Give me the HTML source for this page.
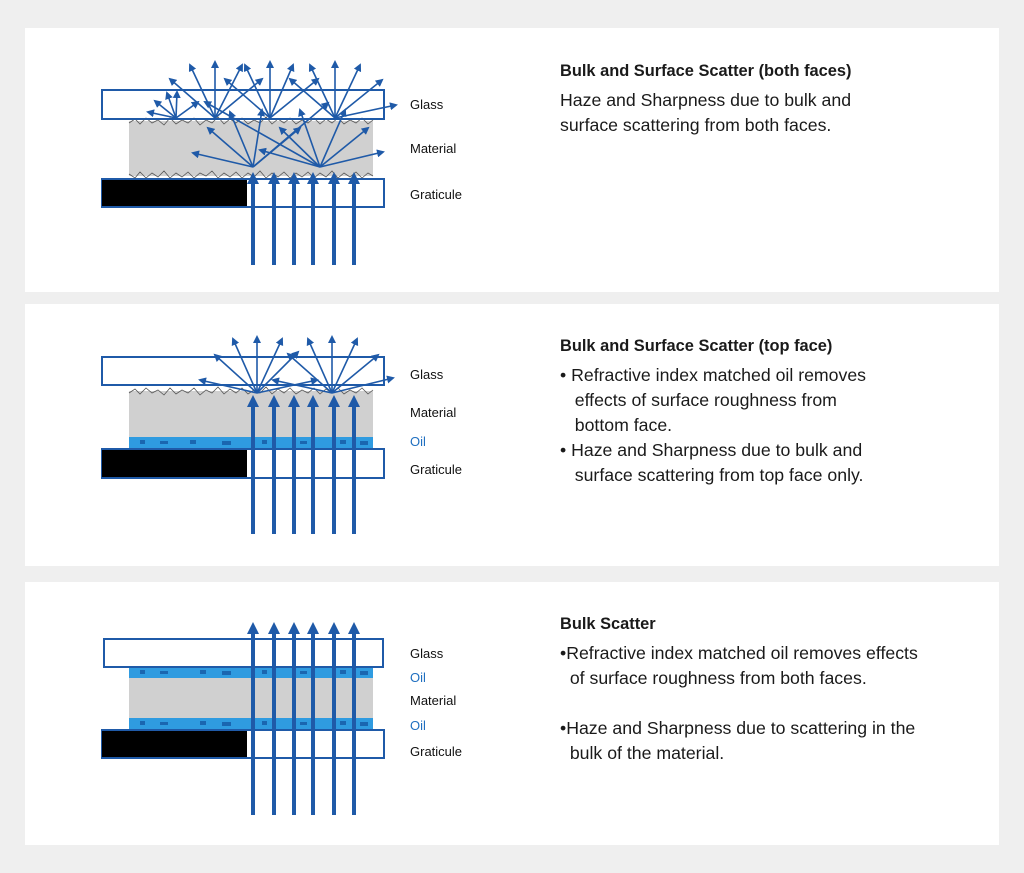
<!DOCTYPE html>
<html><head><meta charset="utf-8"><style>
body{margin:0;background:#efefef;width:1024px;height:873px;overflow:hidden;font-family:"Liberation Sans",sans-serif;}
.card{position:absolute;left:25px;width:974px;background:#fff;}
.t{position:absolute;left:560px;color:#1a1a1a;font-size:17.7px;line-height:25px;white-space:nowrap;}
.t b{display:block;font-size:16.4px;margin-bottom:4px;}
svg{position:absolute;left:0;top:0}
</style></head><body>
<div class="card" style="top:28px;height:264px"></div>
<div class="card" style="top:304px;height:262px"></div>
<div class="card" style="top:582px;height:263px"></div>

<div class="t" style="top:59px"><b>Bulk and Surface Scatter (both faces)</b>Haze and Sharpness due to bulk and<br>surface scattering from both faces.</div>
<div class="t" style="top:334px"><b>Bulk and Surface Scatter (top face)</b>• Refractive index matched oil removes<br>&nbsp;&nbsp;&nbsp;effects of surface roughness from<br>&nbsp;&nbsp;&nbsp;bottom face.<br>• Haze and Sharpness due to bulk and<br>&nbsp;&nbsp;&nbsp;surface scattering from top face only.</div>
<div class="t" style="top:612px"><b>Bulk Scatter</b>•Refractive index matched oil removes effects<br>&nbsp;&nbsp;of surface roughness from both faces.<br><br>•Haze and Sharpness due to scattering in the<br>&nbsp;&nbsp;bulk of the material.</div>

<svg width="1024" height="873" xmlns="http://www.w3.org/2000/svg" font-family="Liberation Sans, sans-serif" font-size="13">
<defs>
<marker id="a" markerWidth="8" markerHeight="8" refX="6" refY="4" orient="auto" markerUnits="userSpaceOnUse"><path d="M0,0 L8,4 L0,8 z" fill="#1f5aa8"/></marker>
<marker id="b" markerWidth="12" markerHeight="12" refX="4" refY="6" orient="auto" markerUnits="userSpaceOnUse"><path d="M0,0 L12,6 L0,12 z" fill="#1f5aa8"/></marker>
</defs>

<!-- PANEL 1 -->
<rect x="129" y="121" width="244" height="55" fill="#d0d0d0"/>
<polyline points="129,123 135,119 140,124 146,118 152,123 158,120 164,125 170,118 176,124 182,120 188,123 194,118 200,125 206,120 212,123 218,117 224,124 230,119 236,123 242,118 248,124 254,120 260,123 266,117 272,124 278,119 284,123 290,118 296,124 302,120 308,123 314,118 320,124 326,119 332,123 338,118 344,124 350,120 356,123 362,118 368,124 373,120" fill="none" stroke="#555" stroke-width="0.8"/>
<polyline points="129,174 135,178 140,172 146,178 152,173 158,177 164,171 170,178 176,173 182,177 188,172 194,178 200,173 206,176 212,171 218,178 224,173 230,177 236,172 242,178 248,173 254,177 260,171 266,178 272,173 278,177 284,172 290,178 296,173 302,177 308,172 314,178 320,173 326,177 332,171 338,178 344,173 350,177 356,172 362,178 368,173 373,176" fill="none" stroke="#555" stroke-width="0.8"/>
<rect x="102" y="90" width="282" height="29" fill="none" stroke="#1f5aa8" stroke-width="2"/>
<rect x="102" y="179" width="282" height="28" fill="#fff" stroke="#1f5aa8" stroke-width="2"/>
<rect x="102" y="180" width="145" height="26" fill="#000"/>
<g stroke="#1f5aa8" stroke-width="1.6" marker-end="url(#a)">
<line x1="176" y1="118" x2="148" y2="112"/><line x1="176" y1="118" x2="155" y2="101"/><line x1="176" y1="118" x2="167" y2="93"/><line x1="176" y1="118" x2="177" y2="92"/><line x1="176" y1="118" x2="198" y2="102"/>
<line x1="215" y1="118" x2="170" y2="79"/><line x1="215" y1="118" x2="190" y2="65"/><line x1="215" y1="118" x2="215" y2="62"/><line x1="215" y1="118" x2="242" y2="65"/><line x1="215" y1="118" x2="262" y2="79"/>
<line x1="270" y1="118" x2="225" y2="79"/><line x1="270" y1="118" x2="245" y2="65"/><line x1="270" y1="118" x2="270" y2="62"/><line x1="270" y1="118" x2="293" y2="65"/><line x1="270" y1="118" x2="318" y2="79"/>
<line x1="335" y1="118" x2="290" y2="79"/><line x1="335" y1="118" x2="310" y2="65"/><line x1="335" y1="118" x2="335" y2="62"/><line x1="335" y1="118" x2="360" y2="65"/><line x1="335" y1="118" x2="382" y2="80"/><line x1="335" y1="118" x2="396" y2="105"/>
<line x1="253" y1="167" x2="193" y2="153"/><line x1="253" y1="167" x2="208" y2="128"/><line x1="253" y1="167" x2="230" y2="112"/><line x1="253" y1="167" x2="262" y2="110"/><line x1="253" y1="167" x2="300" y2="128"/><line x1="253" y1="167" x2="328" y2="103"/>
<line x1="320" y1="167" x2="260" y2="150"/><line x1="320" y1="167" x2="280" y2="128"/><line x1="320" y1="167" x2="300" y2="110"/><line x1="320" y1="167" x2="345" y2="110"/><line x1="320" y1="167" x2="368" y2="128"/><line x1="320" y1="167" x2="383" y2="152"/><line x1="320" y1="167" x2="205" y2="102"/>
</g>
<g stroke="#1f5aa8" stroke-width="4" marker-end="url(#b)">
<line x1="253" y1="265" x2="253" y2="180"/><line x1="274" y1="265" x2="274" y2="180"/><line x1="294" y1="265" x2="294" y2="180"/><line x1="313" y1="265" x2="313" y2="180"/><line x1="334" y1="265" x2="334" y2="180"/><line x1="354" y1="265" x2="354" y2="180"/>
</g>
<text x="410" y="109" fill="#111">Glass</text><text x="410" y="153" fill="#111">Material</text><text x="410" y="199" fill="#111">Graticule</text>

<!-- PANEL 2 -->
<rect x="129" y="391" width="244" height="46" fill="#d0d0d0"/>
<polyline points="129,393 135,389 140,394 146,388 152,393 158,390 164,395 170,388 176,394 182,390 188,393 194,388 200,395 206,390 212,393 218,387 224,394 230,389 236,393 242,388 248,394 254,390 260,393 266,387 272,394 278,389 284,393 290,388 296,394 302,390 308,393 314,388 320,394 326,389 332,393 338,388 344,394 350,390 356,393 362,388 368,394 373,390" fill="none" stroke="#555" stroke-width="0.8"/>
<rect x="129" y="437" width="244" height="11" fill="#2f9be0"/>
<g fill="#1a66b0"><rect x="140" y="440" width="5" height="4"/><rect x="160" y="441" width="8" height="3"/><rect x="190" y="440" width="6" height="4"/><rect x="222" y="441" width="9" height="4"/><rect x="262" y="440" width="5" height="4"/><rect x="300" y="441" width="7" height="3"/><rect x="340" y="440" width="6" height="4"/><rect x="360" y="441" width="8" height="4"/></g>
<rect x="102" y="357" width="282" height="28" fill="none" stroke="#1f5aa8" stroke-width="2"/>
<rect x="102" y="449" width="282" height="29" fill="#fff" stroke="#1f5aa8" stroke-width="2"/>
<rect x="102" y="450" width="145" height="27" fill="#000"/>
<g stroke="#1f5aa8" stroke-width="1.6" marker-end="url(#a)">
<line x1="257" y1="393" x2="200" y2="380"/><line x1="257" y1="393" x2="215" y2="355"/><line x1="257" y1="393" x2="233" y2="339"/><line x1="257" y1="393" x2="257" y2="337"/><line x1="257" y1="393" x2="282" y2="339"/><line x1="257" y1="393" x2="298" y2="352"/><line x1="257" y1="393" x2="317" y2="380"/>
<line x1="332" y1="393" x2="273" y2="380"/><line x1="332" y1="393" x2="288" y2="354"/><line x1="332" y1="393" x2="308" y2="339"/><line x1="332" y1="393" x2="332" y2="337"/><line x1="332" y1="393" x2="357" y2="339"/><line x1="332" y1="393" x2="378" y2="355"/><line x1="332" y1="393" x2="393" y2="378"/>
</g>
<g stroke="#1f5aa8" stroke-width="4" marker-end="url(#b)">
<line x1="253" y1="534" x2="253" y2="403"/><line x1="274" y1="534" x2="274" y2="403"/><line x1="294" y1="534" x2="294" y2="403"/><line x1="313" y1="534" x2="313" y2="403"/><line x1="334" y1="534" x2="334" y2="403"/><line x1="354" y1="534" x2="354" y2="403"/>
</g>
<text x="410" y="379" fill="#111">Glass</text><text x="410" y="417" fill="#111">Material</text><text x="410" y="446" fill="#1f6fc0">Oil</text><text x="410" y="474" fill="#111">Graticule</text>

<!-- PANEL 3 -->
<rect x="129" y="667" width="244" height="11" fill="#2f9be0"/>
<rect x="129" y="678" width="244" height="40" fill="#d0d0d0"/>
<rect x="129" y="718" width="244" height="11" fill="#2f9be0"/>
<g fill="#1a66b0"><rect x="140" y="670" width="5" height="4"/><rect x="160" y="671" width="8" height="3"/><rect x="200" y="670" width="6" height="4"/><rect x="222" y="671" width="9" height="4"/><rect x="262" y="670" width="5" height="4"/><rect x="300" y="671" width="7" height="3"/><rect x="340" y="670" width="6" height="4"/><rect x="360" y="671" width="8" height="4"/>
<rect x="140" y="721" width="5" height="4"/><rect x="160" y="722" width="8" height="3"/><rect x="200" y="721" width="6" height="4"/><rect x="222" y="722" width="9" height="4"/><rect x="262" y="721" width="5" height="4"/><rect x="300" y="722" width="7" height="3"/><rect x="340" y="721" width="6" height="4"/><rect x="360" y="722" width="8" height="4"/></g>
<rect x="104" y="639" width="279" height="28" fill="none" stroke="#1f5aa8" stroke-width="2"/>
<rect x="102" y="730" width="282" height="28" fill="#fff" stroke="#1f5aa8" stroke-width="2"/>
<rect x="102" y="731" width="145" height="26" fill="#000"/>
<g stroke="#1f5aa8" stroke-width="4" marker-end="url(#b)">
<line x1="253" y1="815" x2="253" y2="630"/><line x1="274" y1="815" x2="274" y2="630"/><line x1="294" y1="815" x2="294" y2="630"/><line x1="313" y1="815" x2="313" y2="630"/><line x1="334" y1="815" x2="334" y2="630"/><line x1="354" y1="815" x2="354" y2="630"/>
</g>
<text x="410" y="658" fill="#111">Glass</text><text x="410" y="682" fill="#1f6fc0">Oil</text><text x="410" y="705" fill="#111">Material</text><text x="410" y="730" fill="#1f6fc0">Oil</text><text x="410" y="756" fill="#111">Graticule</text>
</svg>
</body></html>
